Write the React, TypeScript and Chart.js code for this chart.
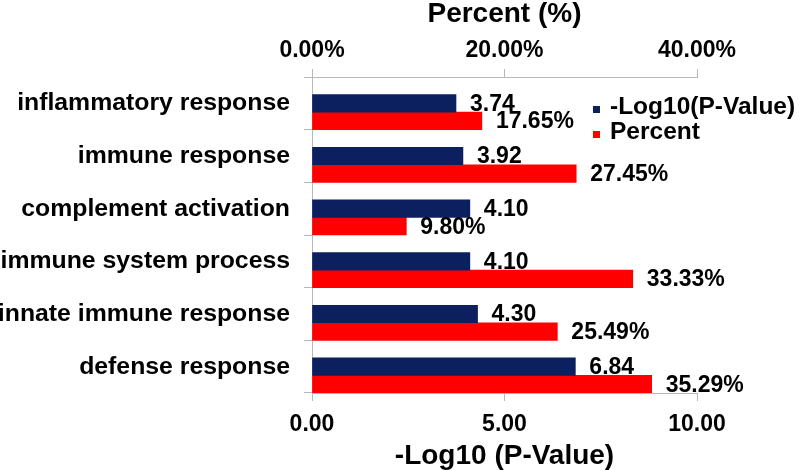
import React, { useEffect, useRef } from 'react';
import { Chart, registerables } from 'chart.js';

Chart.register(...registerables);

const categories = [
  'inflammatory response',
  'immune response',
  'complement activation',
  'immune system process',
  'innate immune response',
  'defense response',
];
const logPValues = [3.74, 3.92, 4.1, 4.1, 4.3, 6.84];
const percentValues = [17.65, 27.45, 9.8, 33.33, 25.49, 35.29];
const spacerValues = [null, null, null, null, null, null];

const legendLabels = ['-Log10(P-Value)', 'Percent'];

const FONT = "'Liberation Sans', Arial, Helvetica, sans-serif";
const BLUE = '#0c1f5e';
const RED = '#ff0000';
const AXIS = '#b8b8b8';

const barLabelPlugin = {
  id: 'barLabels',
  afterDatasetsDraw(chart: any) {
    const ctx = chart.ctx;
    ctx.save();
    ctx.font = `bold 23px ${FONT}`;
    ctx.fillStyle = '#000';
    ctx.textBaseline = 'middle';
    ctx.textAlign = 'left';
    [1, 2].forEach((di) => {
      const meta = chart.getDatasetMeta(di);
      meta.data.forEach((bar: any, i: number) => {
        const v = chart.data.datasets[di].data[i] as number;
        const text = di === 1 ? v.toFixed(2) : v.toFixed(2) + '%';
        ctx.fillText(text, bar.x + 14, bar.y + 1);
      });
    });
    ctx.restore();
  },
};

const customLegendPlugin = {
  id: 'customLegend',
  afterDraw(chart: any) {
    const ctx = chart.ctx;
    ctx.save();
    ctx.font = `bold 24.5px ${FONT}`;
    ctx.textBaseline = 'middle';
    ctx.textAlign = 'left';
    const colors = [BLUE, RED];
    legendLabels.forEach((lbl, i) => {
      const y = 107 + i * 25;
      ctx.fillStyle = colors[i];
      ctx.fillRect(593, y - 1, 7, 7);
      ctx.fillStyle = '#000';
      ctx.fillText(lbl, 610, y);
    });
    ctx.restore();
  },
};

export default function App() {
  const ref = useRef<HTMLCanvasElement>(null);

  useEffect(() => {
    if (!ref.current) return;
    const chart = new Chart(ref.current, {
      type: 'bar',
      data: {
        labels: categories,
        datasets: [
          { label: '', data: spacerValues as any, xAxisID: 'x', backgroundColor: 'transparent' },
          { label: legendLabels[0], data: logPValues, xAxisID: 'x', backgroundColor: BLUE },
          { label: legendLabels[1], data: percentValues, xAxisID: 'x2', backgroundColor: RED },
        ],
      },
      options: {
        indexAxis: 'y',
        responsive: false,
        animation: false,
        layout: { padding: { left: 0, right: 103, top: 0, bottom: 0 } },
        datasets: { bar: { categoryPercentage: 1, barPercentage: 1, borderWidth: 0 } } as any,
        plugins: { legend: { display: false }, tooltip: { enabled: false } },
        scales: {
          y: {
            type: 'category',
            position: 'left',
            afterFit: (s: any) => { s.width = 312; },
            grid: { drawOnChartArea: false, drawTicks: true, tickLength: 8, color: AXIS, offset: true },
            border: { display: true, color: AXIS, width: 1 },
            ticks: { color: '#000', padding: 14, font: { family: FONT, size: 24.8, weight: 'bold' } },
          },
          x: {
            type: 'linear',
            position: 'bottom',
            min: 0,
            max: 10,
            afterFit: (s: any) => { s.height = 77; },
            grid: { drawOnChartArea: false, drawTicks: true, tickLength: 8, color: AXIS },
            border: { display: true, color: AXIS, width: 1 },
            ticks: {
              stepSize: 5,
              color: '#000',
              padding: 12,
              font: { family: FONT, size: 23, weight: 'bold', lineHeight: 1 },
              callback: (v: any) => Number(v).toFixed(2),
            },
            title: {
              display: true,
              text: '-Log10 (P-Value)',
              color: '#000',
              padding: 0,
              font: { family: FONT, size: 28, weight: 'bold', lineHeight: 1 },
            },
          },
          x2: {
            type: 'linear',
            position: 'top',
            min: 0,
            max: 40,
            afterFit: (s: any) => { s.height = 77; },
            grid: { drawOnChartArea: false, drawTicks: true, tickLength: 8, color: AXIS },
            border: { display: true, color: AXIS, width: 1 },
            ticks: {
              stepSize: 20,
              color: '#000',
              padding: 7,
              font: { family: FONT, size: 23, weight: 'bold', lineHeight: 1 },
              callback: (v: any) => Number(v).toFixed(2) + '%',
            },
            title: {
              display: true,
              text: 'Percent (%)',
              color: '#000',
              padding: 0,
              font: { family: FONT, size: 28, weight: 'bold', lineHeight: 1 },
            },
          },
        },
      } as any,
      plugins: [barLabelPlugin, customLegendPlugin],
    });
    return () => chart.destroy();
  }, []);

  return (
    <div style={{ position: 'fixed', left: 0, top: 0, width: 800, height: 470, background: '#fff' }}>
      <canvas ref={ref} width={800} height={470} style={{ display: 'block' }} />
    </div>
  );
}
